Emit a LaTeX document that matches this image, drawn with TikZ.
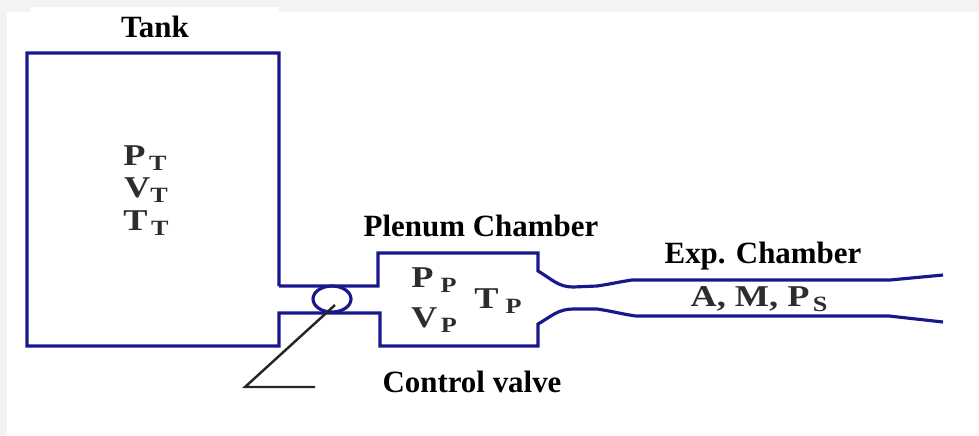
\documentclass[tikz,border=0pt]{standalone}
\usepackage{fontspec}
\setmainfont{Liberation Serif}
\newfontface\symface[FakeStretch=1.2]{Liberation Serif Bold}
\usetikzlibrary{shapes.geometric}
\definecolor{wallblue}{RGB}{24,24,140}
\definecolor{pagegray}{RGB}{243,243,243}
\definecolor{symgray}{RGB}{45,45,45}
\newcommand{\subsym}[3]{#1\kern#3pt\raisebox{-1.6pt}{\fontsize{6.2}{7}\selectfont #2}}
\tikzset{
  wall/.style={draw=wallblue, line width=0.9pt, line join=miter},
  title/.style={inner sep=0pt, font=\fontsize{8.8}{10}\selectfont\bfseries},
  sym/.style={inner sep=0pt, text=symgray, font=\fontsize{8.6}{11}\symface},
  lever/.style={draw=black!85, line width=0.7pt}
}

\begin{document}
\begin{tikzpicture} [x=0.1mm, y=-0.1mm]

\useasboundingbox (0,0) rectangle (979,435);
\fill [pagegray] (0,0) rectangle (979,12);
\fill [pagegray] (0,0) rectangle (7,435);
\fill [white] (30,7) rectangle (279,14);

% tank and plenum, lower wall then upper wall
\draw [wall] (279,286) -- (279,53) -- (27,53) -- (27,346) -- (279,346) -- (279,313) -- (380,313) -- (380,346) -- (538,346) -- (538,324) [out=30, in=180] to (573,309) -- (597,309) [out=-8, in=172] to (636,316) -- (889,316) -- (943,322);
\draw [wall] (279,286) -- (378,286) -- (378,253) -- (538,253) -- (538,271) [out=-30, in=180] to (573,287) -- (597,286) [out=8, in=188] to (632,280) -- (890,280) -- (943,275);

\node (valve) [wall, ellipse, inner sep=0pt, minimum width=3.8mm, minimum height=2.6mm] at (332,299) {};
\coordinate (levertip) at (335,305);
\coordinate (leverknee) at (245,387);
\coordinate (leverend) at (315,387);
\draw [lever] (levertip) -- (leverknee) -- (leverend);

\node (tank) [title] at (155,27) {Tank};
\node (plenum) [title] at (481,226) {Plenum Chamber};
\node (exp) [title] at (763,256) {Exp. Chamber};
\node (control) [title] at (472,382) {Control valve};

\node (pt) [sym] at (145,158) {\subsym{P}{T}{1}};
\node (vt) [sym] at (146,190) {\subsym{V}{T}{0}};
\node (tt) [sym] at (146,223) {\subsym{T}{T}{1}};
\node (pp) [sym] at (434,280) {\subsym{P}{P}{2}};
\node (vp) [sym] at (434,320) {\subsym{V}{P}{1}};
\node (tp) [sym] at (498,301) {\subsym{T}{P}{2}};
\node (flow) [sym] at (759,299) {A, M, \subsym{P}{S}{1}};

\end{tikzpicture}
\end{document}
